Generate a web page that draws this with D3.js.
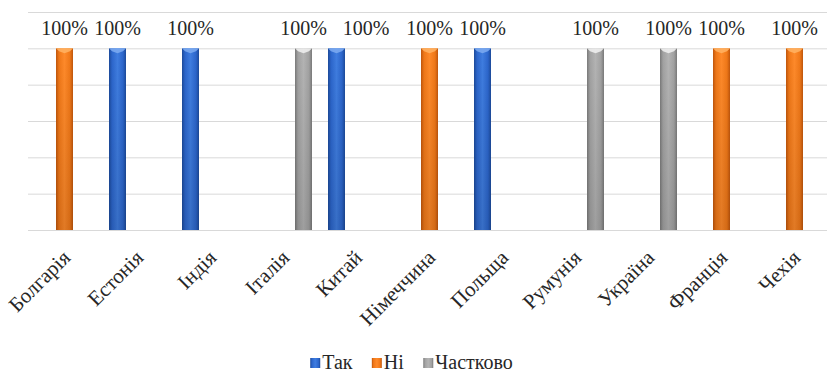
<!DOCTYPE html>
<html>
<head>
<meta charset="utf-8">
<script src="https://cdn.jsdelivr.net/npm/d3@7"></script>
<style>
  html, body { margin: 0; padding: 0; background: #fff; }
  svg text { font-family: "Liberation Serif", "Times New Roman", "DejaVu Serif", serif !important; }
</style>
</head>
<body>
<svg id="chart" width="827" height="372"></svg>
<script>
// Країни та відповіді (1 = 100%)
const categories = ["Болгарія", "Естонія", "Індія", "Італія", "Китай", "Німеччина",
                    "Польща", "Румунія", "Україна", "Франція", "Чехія"];
const seriesNames = ["Так", "Ні", "Частково"];
const valuesYes     = [0, 1, 1, 0, 1, 0, 1, 0, 0, 0, 0];
const valuesNo      = [1, 0, 0, 0, 0, 1, 0, 0, 0, 1, 1];
const valuesPartial = [0, 0, 0, 1, 0, 0, 0, 1, 1, 0, 0];
const yTicks = [0, 0.2, 0.4, 0.6, 0.8, 1.0, 1.2];

const seriesValues = [valuesYes, valuesNo, valuesPartial];
const palette = {
  "Так":      { light: "#3f7de0", mid: "#2c66cc", dark: "#1c4a9a", cap: "#7aa8ef" },
  "Ні":       { light: "#ff8a2a", mid: "#f07818", dark: "#c0560c", cap: "#ffb060" },
  "Частково": { light: "#b4b4b4", mid: "#a2a2a2", dark: "#7a7a7a", cap: "#eeeeee" }
};

const svg = d3.select("#chart");
const plot = { left: 28, right: 831, top: 12, bottom: 230 };

const x0 = d3.scaleBand().domain(categories).range([plot.left, plot.right]).padding(0);
const groupWidth = 57;
const x1 = d3.scaleBand().domain(seriesNames).range([0, groupWidth]).paddingInner(0.15).paddingOuter(0);
const y = d3.scaleLinear().domain([0, 1.2]).range([plot.bottom, plot.top]);

// Gradients for the bevelled bars
const defs = svg.append("defs");
seriesNames.forEach((s, i) => {
  const c = palette[s];
  const g = defs.append("linearGradient").attr("id", "grad" + i)
    .attr("x1", "0").attr("x2", "1").attr("y1", "0").attr("y2", "0");
  g.append("stop").attr("offset", "0%").attr("stop-color", c.dark);
  g.append("stop").attr("offset", "18%").attr("stop-color", c.mid);
  g.append("stop").attr("offset", "50%").attr("stop-color", c.light);
  g.append("stop").attr("offset", "82%").attr("stop-color", c.mid);
  g.append("stop").attr("offset", "100%").attr("stop-color", c.dark);
});
const shade = defs.append("linearGradient").attr("id", "shade")
  .attr("x1", "0").attr("x2", "0").attr("y1", "0").attr("y2", "1");
shade.append("stop").attr("offset", "0%").attr("stop-color", "#000").attr("stop-opacity", 0);
shade.append("stop").attr("offset", "100%").attr("stop-color", "#000").attr("stop-opacity", 0.12);

// Gridlines
const yAxis = d3.axisLeft(y).tickValues(yTicks).tickSize(-(plot.right - plot.left)).tickFormat("");
svg.append("g").attr("transform", `translate(${plot.left},0)`).call(yAxis)
  .call(g => g.select(".domain").remove())
  .call(g => g.selectAll(".tick line").attr("stroke", "#d9d9d9").attr("stroke-width", 1));

// Bars
const groups = svg.append("g").selectAll("g").data(categories).join("g")
  .attr("transform", d => `translate(${x0(d) + (x0.bandwidth() - groupWidth) / 2},0)`);

const cells = groups.selectAll("g.bar")
  .data((d, ci) => seriesNames.map((s, si) => ({ s, si, v: seriesValues[si][ci] })).filter(e => e.v > 0))
  .join("g").attr("class", "bar");

cells.append("rect")
  .attr("x", d => x1(d.s)).attr("y", d => y(d.v))
  .attr("width", x1.bandwidth()).attr("height", d => y(0) - y(d.v))
  .attr("fill", d => `url(#grad${d.si})`);
cells.append("rect")
  .attr("x", d => x1(d.s)).attr("y", d => y(d.v))
  .attr("width", x1.bandwidth()).attr("height", d => y(0) - y(d.v))
  .attr("fill", "url(#shade)");
cells.append("path")
  .attr("d", d => {
    const bx = x1(d.s), w = x1.bandwidth(), by = y(d.v);
    return `M${bx},${by}L${bx + w},${by}L${bx + w - 3},${by + 3}L${bx + w / 2},${by + 5}L${bx + 3},${by + 3}Z`;
  })
  .attr("fill", d => palette[d.s].cap).attr("opacity", 0.9);

// Value labels
const valueLabels = cells.append("text")
  .attr("x", d => x1(d.s) + x1.bandwidth() / 2)
  .attr("y", d => y(d.v) - 13)
  .attr("text-anchor", "middle")
  .attr("font-size", 20).attr("fill", "#262626")
  .text(d => d3.format(".0%")(d.v));

// Nudge a label to the right when it would collide with the one before it
let prevRight = -Infinity;
valueLabels.each(function () {
  const r = this.getBoundingClientRect();
  if (r.left < prevRight) {
    const shift = prevRight + 16 - r.left;
    d3.select(this).attr("dx", shift);
    prevRight = r.right + shift;
  } else {
    prevRight = r.right;
  }
});

// Category labels
const xAxis = d3.axisBottom(x0).tickSize(0).tickPadding(0);
svg.append("g").attr("transform", `translate(0,${plot.bottom})`).call(xAxis)
  .call(g => g.select(".domain").attr("stroke", "#d9d9d9"))
  .call(g => g.selectAll(".tick text")
    .attr("font-size", 21).attr("fill", "#262626")
    .attr("text-anchor", "end")
    .attr("dy", null)
    .attr("transform", "translate(7,29) rotate(-45)")
    .attr("x", 0).attr("y", 0));

// Legend
const legend = svg.append("g").attr("font-size", 20);
const items = legend.selectAll("g").data(seriesNames).join("g");
items.append("rect").attr("width", 10).attr("height", 10).attr("y", -11)
  .attr("fill", (d, i) => `url(#grad${i})`);
items.append("text").attr("x", 12).attr("fill", "#262626").text(d => d);
let lx = 0;
items.each(function () {
  const w = this.getBBox().width;
  d3.select(this).attr("transform", `translate(${lx},0)`);
  lx += w + 19;
});
lx -= 19;
legend.attr("transform", `translate(${411.5 - lx / 2},369)`);
</script>
</body>
</html>
